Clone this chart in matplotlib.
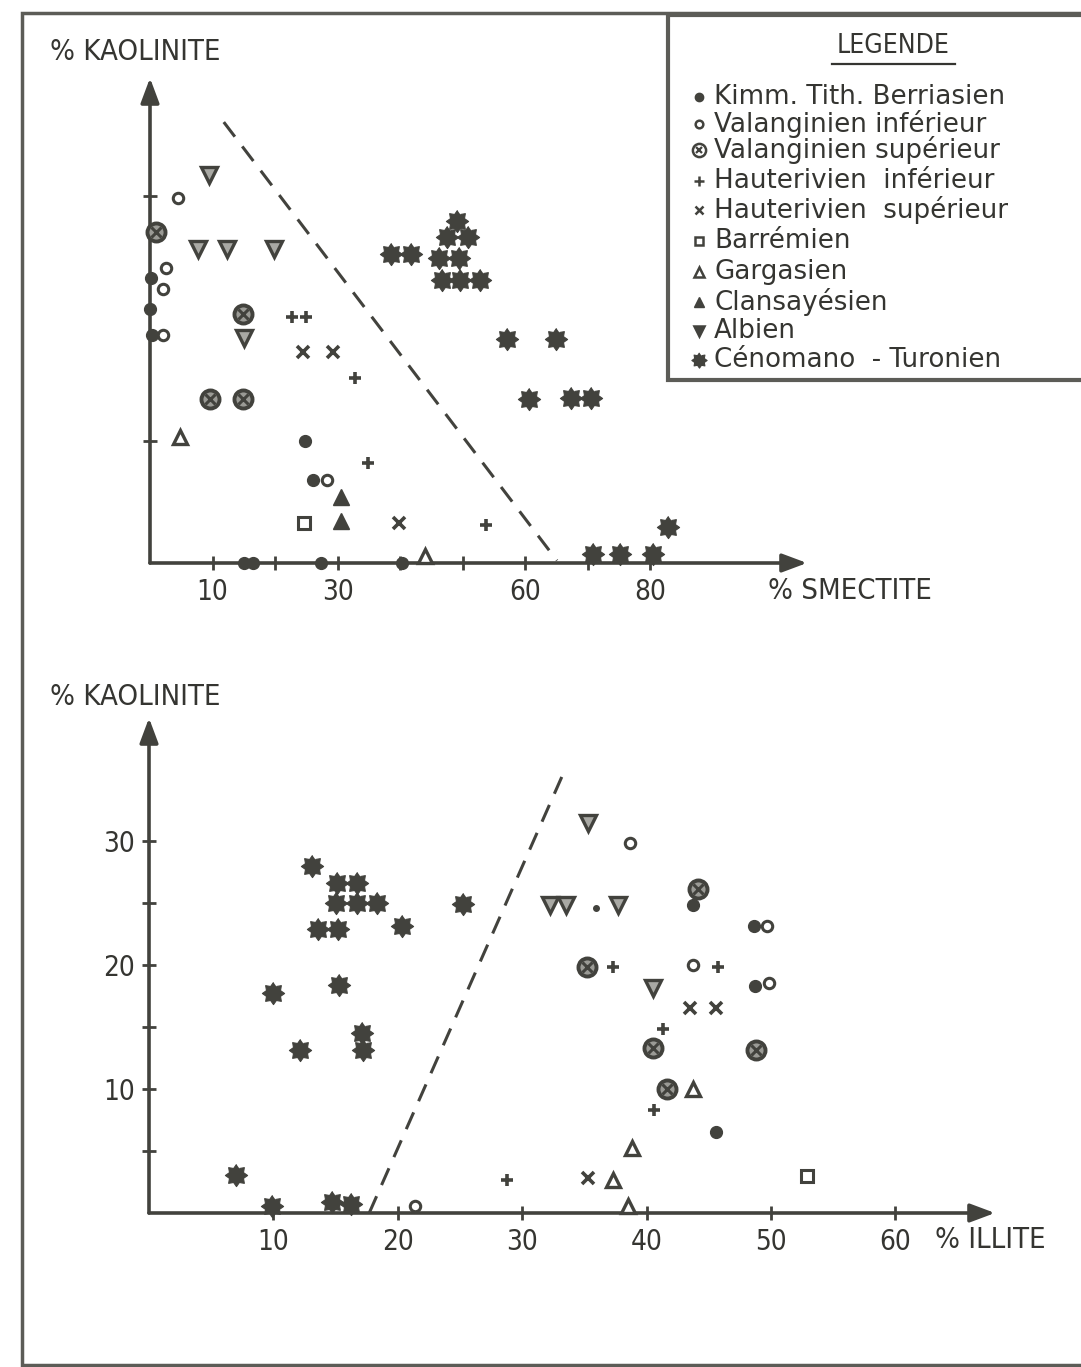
import numpy as np
import matplotlib
matplotlib.use("Agg")
import matplotlib.pyplot as plt
from matplotlib import font_manager
from matplotlib.path import Path

# ---------------- data: top panel (% smectite vs % kaolinite) ----------------
t_kimm_x = [0.2, 0.0, 0.3, 24.8, 26.1, 15.0, 16.5, 27.4, 40.3]
t_kimm_y = [23.3, 20.7, 18.6, 10.0, 6.8, 0.0, 0.0, 0.0, 0.0]
t_valinf_x = [4.5, 2.6, 2.1, 2.1, 28.3]
t_valinf_y = [29.8, 24.1, 22.4, 18.6, 6.8]
t_valsup_x = [1.0, 14.9, 9.6, 14.9]
t_valsup_y = [27.0, 20.3, 13.4, 13.4]
t_hautinf_x = [22.7, 25.0, 32.8, 34.9, 53.8]
t_hautinf_y = [20.1, 20.1, 15.1, 8.2, 3.1]
t_hautsup_x = [24.5, 29.3, 39.8]
t_hautsup_y = [17.2, 17.2, 3.3]
t_barr_x = [24.6]
t_barr_y = [3.3]
t_garg_x = [4.8, 44.0]
t_garg_y = [10.3, 0.6]
t_clans_x = [30.6, 30.6]
t_clans_y = [5.4, 3.4]
t_alb_x = [9.4, 7.7, 12.3, 19.8, 15.0]
t_alb_y = [31.7, 25.6, 25.6, 25.6, 18.4]
t_ceno_x = [49.1, 47.5, 50.9, 38.6, 41.8, 46.2, 49.4, 46.7, 49.6, 52.8,
            57.1, 65.0, 60.6, 67.4, 70.6, 82.9, 70.9, 75.2, 80.5]
t_ceno_y = [27.9, 26.6, 26.6, 25.2, 25.2, 24.9, 24.9, 23.1, 23.1, 23.1,
            18.3, 18.3, 13.4, 13.5, 13.5, 2.9, 0.7, 0.7, 0.7]
t_line_x = [11.8, 65.1]
t_line_y = [36.0, 0.2]
t_xticks = [10, 20, 30, 40, 50, 60, 70, 80]
t_xticklabels = ["10", "", "30", "", "", "60", "", "80"]
t_yticks = [10, 30]

# ---------------- data: bottom panel (% illite vs % kaolinite) ----------------
b_ceno_x = [13.1, 15.1, 16.7, 15.0, 16.7, 18.3, 13.6, 15.2, 20.3, 25.2,
            10.0, 15.3, 17.1, 17.2, 12.1, 7.0, 9.9, 14.7, 16.2]
b_ceno_y = [28.0, 26.6, 26.6, 25.0, 25.0, 25.0, 22.9, 22.9, 23.1, 24.9,
            17.7, 18.4, 14.5, 13.1, 13.1, 3.1, 0.6, 0.9, 0.7]
b_valinf_x = [21.4, 38.7, 43.7, 49.7, 49.8]
b_valinf_y = [0.6, 29.8, 20.0, 23.1, 18.5]
b_alb_x = [35.3, 32.2, 33.5, 37.7, 40.5]
b_alb_y = [31.4, 24.8, 24.8, 24.8, 18.1]
b_valsup_x = [44.1, 35.2, 40.5, 48.8, 41.6]
b_valsup_y = [26.1, 19.8, 13.3, 13.1, 10.0]
b_kimm_x = [43.7, 48.6, 48.7, 45.6]
b_kimm_y = [24.8, 23.1, 18.3, 6.5]
b_dot_x = [35.9]
b_dot_y = [24.6]
b_hautinf_x = [37.3, 45.7, 41.3, 40.6, 28.8]
b_hautinf_y = [19.8, 19.8, 14.8, 8.3, 2.7]
b_hautsup_x = [43.5, 45.6, 35.3]
b_hautsup_y = [16.5, 16.5, 2.8]
b_garg_x = [43.7, 38.8, 37.3, 38.5]
b_garg_y = [10.0, 5.2, 2.7, 0.6]
b_barr_x = [52.9]
b_barr_y = [3.0]
b_line_x = [17.7, 33.2]
b_line_y = [0.0, 35.2]
b_xticks = [10, 20, 30, 40, 50, 60]
b_xticklabels = ["10", "20", "30", "40", "50", "60"]
b_yticks = [5, 10, 15, 20, 25, 30]
b_yticklabels = ["", "10", "", "20", "", "30"]

legend_labels = ["Kimm. Tith. Berriasien", "Valanginien inférieur",
                 "Valanginien supérieur", "Hauterivien  inférieur",
                 "Hauterivien  supérieur", "Barrémien", "Gargasien",
                 "Clansayésien", "Albien", "Cénomano  - Turonien"]

# ---------------- styling ----------------
INK = "#42423d"
TXT = "#353531"
FRAME = "#5c5c57"

avail = {f.name for f in font_manager.fontManager.ttflist}
if "Liberation Sans Narrow" in avail:
    NARROW = dict(family="Liberation Sans Narrow")
    s_lab, s_tick, s_title = 24, 23, 22
else:
    NARROW = dict(family="DejaVu Sans", stretch="condensed")
    s_lab, s_tick, s_title = 21, 20, 19
LEG_FONT = dict(family="DejaVu Sans")

# sunburst star marker
ang = np.linspace(0, 2 * np.pi, 17)[:-1] + np.pi / 2
rad = np.where(np.arange(16) % 2 == 0, 1.0, 0.68)
star = Path(np.column_stack([rad * np.cos(ang), rad * np.sin(ang)]))

W, H = 1081, 1367
fig = plt.figure(figsize=(W / 100, H / 100), dpi=100)
fig.patch.set_facecolor("white")

# overlay in pixel coordinates for frame, legend and axis titles
ov = fig.add_axes([0, 0, 1, 1], zorder=0)
ov.set_xlim(0, W)
ov.set_ylim(H, 0)
ov.axis("off")
ov.patch.set_alpha(0)


def px_axes(x0, y0, x1, y1):
    a = fig.add_axes([x0 / W, 1 - y1 / H, (x1 - x0) / W, (y1 - y0) / H], zorder=1)
    a.patch.set_alpha(0)
    for s in a.spines.values():
        s.set_visible(False)
    return a


def draw_axes(a):
    ap = dict(arrowstyle="-|>,head_length=0.75,head_width=0.28", lw=2.6,
              color=INK, shrinkA=0, shrinkB=0, mutation_scale=20)
    a.annotate("", xy=(1, 0), xytext=(0, 0), xycoords="axes fraction",
               textcoords="axes fraction", arrowprops=ap)
    a.annotate("", xy=(0, 1), xytext=(0, 0), xycoords="axes fraction",
               textcoords="axes fraction", arrowprops=ap)
    a.tick_params(direction="inout", length=10, width=2, color=INK,
                  labelcolor=TXT, labelsize=s_tick)
    a.tick_params(axis="x", pad=6)
    a.tick_params(axis="y", pad=5)
    for lab in a.get_xticklabels() + a.get_yticklabels():
        lab.set(**NARROW)


STY = {
    "kimm": dict(marker="o", ms=8.5, mfc=INK, mec=INK, mew=1),
    "valinf": dict(marker="o", ms=7.5, mfc="white", mec=INK, mew=2.2),
    "valsup": dict(marker="o", ms=13, mfc="#9a9a95", mec=INK, mew=2.8),
    "valsupx": dict(marker="x", ms=7, mec=INK, mew=2.2),
    "hautinf": dict(marker="+", ms=9, mec=INK, mew=2.6),
    "hautsup": dict(marker="x", ms=8, mec=INK, mew=2.6),
    "barr": dict(marker="s", ms=8, mfc="white", mec=INK, mew=2.2),
    "garg": dict(marker="^", ms=10, mfc="white", mec=INK, mew=2.4),
    "clans": dict(marker="^", ms=11, mfc=INK, mec=INK, mew=1),
    "alb": dict(marker="v", ms=11, mfc="#a9a9a4", mec=INK, mew=2.4),
    "ceno": dict(marker=star, ms=16, mfc=INK, mec=INK, mew=0.8),
    "dot": dict(marker="o", ms=4, mfc=INK, mec=INK),
}


def pts(a, x, y, key):
    a.plot(x, y, ls="none", clip_on=False, zorder=3, **STY[key])
    if key == "valsup":
        a.plot(x, y, ls="none", clip_on=False, zorder=4, **STY["valsupx"])


# ---------------- top panel ----------------
ax1 = px_axes(150, 78, 807, 563)
ax1.set_xlim(0, 105.1)
ax1.set_ylim(0, 39.6)
ax1.set_xticks(t_xticks)
ax1.set_xticklabels(t_xticklabels)
ax1.set_yticks(t_yticks)
ax1.set_yticklabels(["" for _ in t_yticks])
draw_axes(ax1)
ax1.plot(t_line_x, t_line_y, color=INK, lw=2.2, ls=(0, (6, 4)), zorder=2)
pts(ax1, t_kimm_x, t_kimm_y, "kimm")
pts(ax1, t_valinf_x, t_valinf_y, "valinf")
pts(ax1, t_valsup_x, t_valsup_y, "valsup")
pts(ax1, t_hautinf_x, t_hautinf_y, "hautinf")
pts(ax1, t_hautsup_x, t_hautsup_y, "hautsup")
pts(ax1, t_barr_x, t_barr_y, "barr")
pts(ax1, t_garg_x, t_garg_y, "garg")
pts(ax1, t_clans_x, t_clans_y, "clans")
pts(ax1, t_alb_x, t_alb_y, "alb")
pts(ax1, t_ceno_x, t_ceno_y, "ceno")

# ---------------- bottom panel ----------------
ax2 = px_axes(149, 718, 995, 1213)
ax2.set_xlim(0, 68.0)
ax2.set_ylim(0, 39.9)
ax2.set_xticks(b_xticks)
ax2.set_xticklabels(b_xticklabels)
ax2.set_yticks(b_yticks)
ax2.set_yticklabels(b_yticklabels)
draw_axes(ax2)
ax2.plot(b_line_x, b_line_y, color=INK, lw=2.2, ls=(0, (6, 4)), zorder=2)
pts(ax2, b_ceno_x, b_ceno_y, "ceno")
pts(ax2, b_valinf_x, b_valinf_y, "valinf")
pts(ax2, b_alb_x, b_alb_y, "alb")
pts(ax2, b_valsup_x, b_valsup_y, "valsup")
pts(ax2, b_kimm_x, b_kimm_y, "kimm")
pts(ax2, b_dot_x, b_dot_y, "dot")
pts(ax2, b_hautinf_x, b_hautinf_y, "hautinf")
pts(ax2, b_hautsup_x, b_hautsup_y, "hautsup")
pts(ax2, b_garg_x, b_garg_y, "garg")
pts(ax2, b_barr_x, b_barr_y, "barr")

# ---------------- frame, legend, axis titles (pixel overlay) ----------------
ov.plot([W, 22, 22, W], [13, 13, 1365, 1365], color=FRAME, lw=2.5,
        solid_joinstyle="miter", clip_on=False)
ov.plot([W, 668, 668, W], [15, 15, 380, 380], color=FRAME, lw=3,
        solid_joinstyle="miter", clip_on=False)

ov.text(893, 46, "LEGENDE", ha="center", va="center", fontsize=s_title,
        color=TXT, **NARROW)
ov.plot([832, 955], [64, 64], color=TXT, lw=1.6)

leg_keys = ["kimm", "valinf", "valsup", "hautinf", "hautsup", "barr",
            "garg", "clans", "alb", "ceno"]
leg_rows = [97, 124, 150, 181, 210, 241, 272, 302, 331, 360]
leg_ms = {"kimm": 6, "valinf": 5.5, "valsup": 9.5, "hautinf": 7, "hautsup": 6,
          "barr": 6, "garg": 7, "clans": 7, "alb": 7, "ceno": 11}
for key, row, lab in zip(leg_keys, leg_rows, legend_labels):
    st = dict(STY[key])
    st["ms"] = leg_ms[key]
    if key == "alb":
        st["mfc"] = INK
    if key == "valsup":
        st["mfc"] = "white"
    if "mew" in st:
        st["mew"] = min(st["mew"], 1.8)
    ov.plot([699], [row], ls="none", **st)
    if key == "valsup":
        ov.plot([699], [row], ls="none", marker="x", ms=5, mec=INK, mew=1.6)
    ov.text(714, row, lab, ha="left", va="center", fontsize=18.8,
            color=TXT, **LEG_FONT)

ov.text(50, 52, "% KAOLINITE", ha="left", va="center", fontsize=s_lab,
        color=TXT, **NARROW)
ov.text(768, 591, "% SMECTITE", ha="left", va="center", fontsize=s_lab,
        color=TXT, **NARROW)
ov.text(50, 697, "% KAOLINITE", ha="left", va="center", fontsize=s_lab,
        color=TXT, **NARROW)
ov.text(935, 1240, "% ILLITE", ha="left", va="center", fontsize=s_lab,
        color=TXT, **NARROW)

fig.savefig("out.png", dpi=100, facecolor="white")
